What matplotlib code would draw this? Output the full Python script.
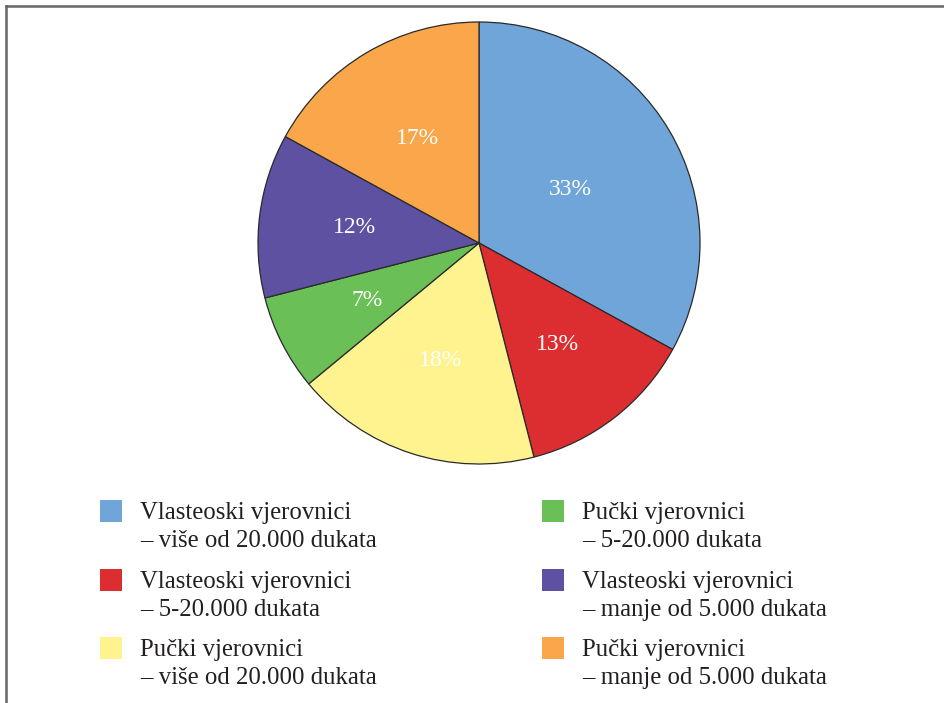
import numpy as np
import matplotlib
matplotlib.use("Agg")
import matplotlib.pyplot as plt
from matplotlib.patches import Rectangle
from matplotlib.lines import Line2D

# ── Data ─────────────────────────────────────────────────────────────────────
shares = [33, 13, 18, 7, 12, 17]
pct_labels = ["33%", "13%", "18%", "7%", "12%", "17%"]
legend_names = [
    "Vlasteoski vjerovnici\n– više od 20.000 dukata",
    "Vlasteoski vjerovnici\n– 5-20.000 dukata",
    "Pučki vjerovnici\n– više od 20.000 dukata",
    "Pučki vjerovnici\n– 5-20.000 dukata",
    "Vlasteoski vjerovnici\n– manje od 5.000 dukata",
    "Pučki vjerovnici\n– manje od 5.000 dukata",
]
colors = ["#6fa5d8", "#dc2e31", "#fff38f", "#6bbf57", "#5e51a1", "#f9a74a"]

W, H = 944, 703
SERIF = ["Liberation Serif", "DejaVu Serif"]

fig = plt.figure(figsize=(W / 100, H / 100), dpi=100)
fig.patch.set_facecolor("white")

# ── Pie ──────────────────────────────────────────────────────────────────────
cx, cy, r = 479, 243, 221
ax = fig.add_axes([(cx - r) / W, (H - cy - r) / H, 2 * r / W, 2 * r / H])
wedges, _ = ax.pie(shares, colors=colors, startangle=90, counterclock=False,
                   radius=1.0,
                   wedgeprops=dict(edgecolor="#2a2a2a", linewidth=0.9))
ax.set_xlim(-1, 1)
ax.set_ylim(-1, 1)
ax.set_aspect("equal")
ax.axis("off")

# percentage labels (the big slice sits a bit closer to the centre)
label_dist = [0.48, 0.58, 0.56, 0.57, 0.57, 0.55]
for w, lab, d in zip(wedges, pct_labels, label_dist):
    ang = np.radians((w.theta1 + w.theta2) / 2)
    ax.text(d * np.cos(ang), d * np.sin(ang), lab, color="white",
            ha="center", va="center", fontsize=17, family=SERIF)

# ── Frame + legend on an overlay in pixel coordinates ───────────────────────
ov = fig.add_axes([0, 0, 1, 1], zorder=-1)
ov.set_xlim(0, W)
ov.set_ylim(H, 0)
ov.axis("off")

ov.add_line(Line2D([6, 6], [6, H], color="#666666", linewidth=1.8))
ov.add_line(Line2D([6, W], [6, 6], color="#666666", linewidth=1.8))

col_x = [100, 542]
row_base = [519, 588, 656]
for i, (name, c) in enumerate(zip(legend_names, colors)):
    col, row = divmod(i, 3)
    x0, yb = col_x[col], row_base[row]
    ov.add_patch(Rectangle((x0, yb - 19), 22, 22, facecolor=c, edgecolor="none"))
    first, second = name.split("\n")
    ov.text(x0 + 40, yb, first, ha="left", va="baseline", fontsize=17.8,
            color="#231f20", family=SERIF)
    ov.text(x0 + 40, yb + 28, second, ha="left", va="baseline", fontsize=17.8,
            color="#231f20", family=SERIF)

fig.savefig("out.png", dpi=100, facecolor="white")
